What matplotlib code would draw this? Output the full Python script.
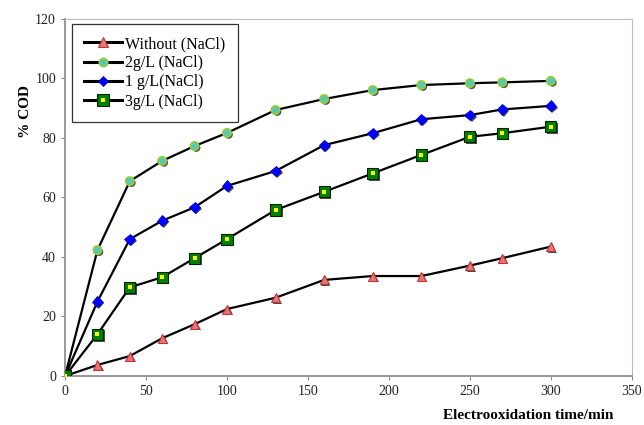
import numpy as np
import matplotlib
matplotlib.use('Agg')
import matplotlib.pyplot as plt
import matplotlib.patheffects as pe
from matplotlib.lines import Line2D


### DATA ###

time_min = [0, 20, 40, 60, 80, 100, 130, 160, 190, 220, 250, 270, 300]
cod_without = [0, 3.7, 6.7, 12.7, 17.4, 22.5, 26.3, 32.3, 33.6, 33.6, 37.1, 39.6, 43.5]
cod_2g = [0, 42.3, 65.5, 72.3, 77.3, 81.7, 89.4, 93.1, 96.1, 97.8, 98.4, 98.7, 99.2]
cod_1g = [0, 25, 46, 52.2, 56.7, 63.9, 68.9, 77.6, 81.6, 86.3, 87.7, 89.6, 90.8]
cod_3g = [0, 14, 29.8, 33.2, 39.6, 46, 55.8, 61.9, 68.1, 74.3, 80.4, 81.6, 83.8]

labels = ['Without (NaCl)', '2g/L (NaCl)', '1 g/L(NaCl)', '3g/L (NaCl)']
x_ticks = [0, 50, 100, 150, 200, 250, 300, 350]
y_ticks = [0, 20, 40, 60, 80, 100, 120]


### STYLE ###

plt.rcParams['font.family'] = ['Liberation Serif', 'DejaVu Serif']
shadow = [pe.SimplePatchShadow(offset=(1.2, -1.2), shadow_rgbFace='k', alpha=0.7),
          pe.Normal()]
line_kw = dict(color='black', lw=1.6, zorder=2)

styles = [
    dict(marker='^', ms=6.5, mfc='#e87474', mec='#c03434', mew=0.8),
    dict(marker='o', ms=6, mfc='#55c8b8', mec='#99cc33', mew=1.2),
    dict(marker='D', ms=5.5, mfc='#0000ff', mec='#0000cc', mew=0.6),
    dict(marker='s', ms=8, mfc='#008000', mec='#002200', mew=0.8),
]
center_kw = dict(marker='s', ms=2.5, mfc='#ffff00', mec='#ffff00', mew=0)


### PLOT ###

fig = plt.figure(figsize=(6.44, 4.25), dpi=100)
ax = fig.add_axes([0.101, 0.1153, 0.88, 0.84])

series = [cod_without, cod_2g, cod_1g, cod_3g]
handles = []
for i, ys in enumerate(series):
    ax.plot(time_min, ys, **line_kw)
    ax.plot(time_min, ys, ls='none', zorder=3, path_effects=shadow, **styles[i])
    h_line = Line2D([], [], color='black', lw=2.2)
    h_mark = Line2D([], [], ls='none', **styles[i])
    if i == 3:
        ax.plot(time_min, ys, ls='none', zorder=4, **center_kw)
        handles.append((h_line, h_mark, Line2D([], [], ls='none', **center_kw)))
    else:
        handles.append((h_line, h_mark))

ax.set_xlim(0, 350)
ax.set_ylim(0, 120)
ax.set_xticks(x_ticks)
ax.set_yticks(y_ticks)
ax.tick_params(axis='both', direction='out', length=3, width=0.8,
               colors='#888888', labelcolor='#222222', labelsize=10)

for s in ['left', 'bottom']:
    ax.spines[s].set_color('#999999')
    ax.spines[s].set_linewidth(1.4)
for s in ['top', 'right']:
    ax.spines[s].set_color('#bbbbbb')
    ax.spines[s].set_linewidth(0.8)

ax.text(-0.07, 0.74, '% COD', transform=ax.transAxes, rotation=90,
        ha='center', va='center', fontsize=11, fontweight='bold')
fig.text(0.82, 0.022, 'Electrooxidation time/min',
         ha='center', va='center', fontsize=11, fontweight='bold')

leg = ax.legend(handles, labels, loc='upper left', bbox_to_anchor=(0.012, 0.986),
                borderaxespad=0, fontsize=11.5, frameon=True, fancybox=False,
                handlelength=2.4, handletextpad=0.2, borderpad=0.75,
                labelspacing=0.2)
leg.get_frame().set_edgecolor('black')
leg.get_frame().set_linewidth(0.9)

fig.savefig('out.png', dpi=100)
